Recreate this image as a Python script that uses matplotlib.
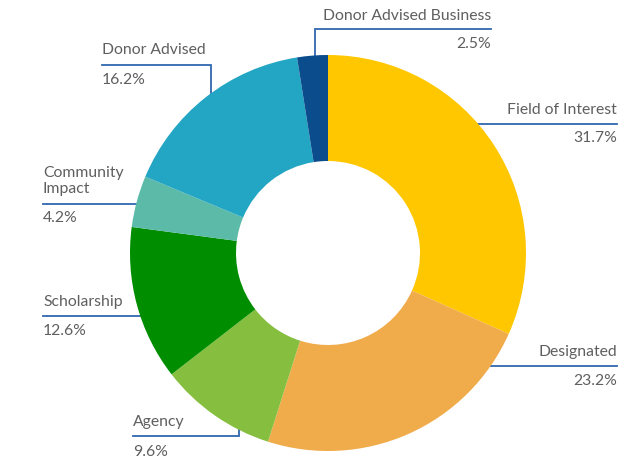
import matplotlib
matplotlib.use("Agg")
import matplotlib.pyplot as plt

categories = ["Field of Interest", "Designated", "Agency", "Scholarship",
              "Community\nImpact", "Donor Advised", "Donor Advised Business"]
values = [31.7, 23.2, 9.6, 12.6, 4.2, 16.2, 2.5]
colors = ["#FFC700", "#F0AB4A", "#86BF40", "#008E00", "#5BBAA8", "#23A5C4", "#0B4C8C"]

W, H = 618, 458
fig = plt.figure(figsize=(W / 100, H / 100), dpi=100)
ax = fig.add_axes([0, 0, 1, 1])
ax.set_xlim(0, W)
ax.set_ylim(0, H)
ax.set_aspect("equal")
ax.axis("off")

def Y(y):
    return H - y

cx, cy, R = 328, 253, 198
ax.pie(values, colors=colors, startangle=90, counterclock=False,
       center=(cx, Y(cy)), radius=R, frame=True,
       wedgeprops=dict(width=R - 92, edgecolor="none", zorder=3))
ax.set_xlim(0, W)
ax.set_ylim(0, H)
ax.axis("off")

# label layout: (name x, name y, pct y, align, leader path)
layout = [
    (617, 110, 138, "right", [(617, 124), (440, 124)]),
    (617, 352, 381, "right", [(617, 366), (450, 366)]),
    (133, 422, 452, "left", [(133, 436), (239, 436), (239, 400)]),
    (43, 302, 331, "left", [(43, 316), (200, 316)]),
    (43, 181, 218, "left", [(43, 204), (200, 204)]),
    (102, 50, 80, "left", [(102, 65), (211, 65), (211, 120)]),
    (491, 16, 44, "right", [(491, 29), (315, 29), (315, 80)]),
]

tcol = "#5f5f5f"
lcol = "#3068B0"
fs = 11.3
for name, val, (x, ny, py, ha, path) in zip(categories, values, layout):
    ax.text(x, Y(ny), name, ha=ha, va="center", fontsize=fs, color=tcol,
            family="Lato", linespacing=1.2)
    ax.text(x, Y(py), f"{val:.1f}%", ha=ha, va="center", fontsize=fs,
            color=tcol, family="Lato")
    xs = [p[0] for p in path]
    ys = [Y(p[1]) for p in path]
    ax.plot(xs, ys, color=lcol, lw=1.3, zorder=1, solid_joinstyle="miter")

fig.savefig("out.png", dpi=100, facecolor="white")
